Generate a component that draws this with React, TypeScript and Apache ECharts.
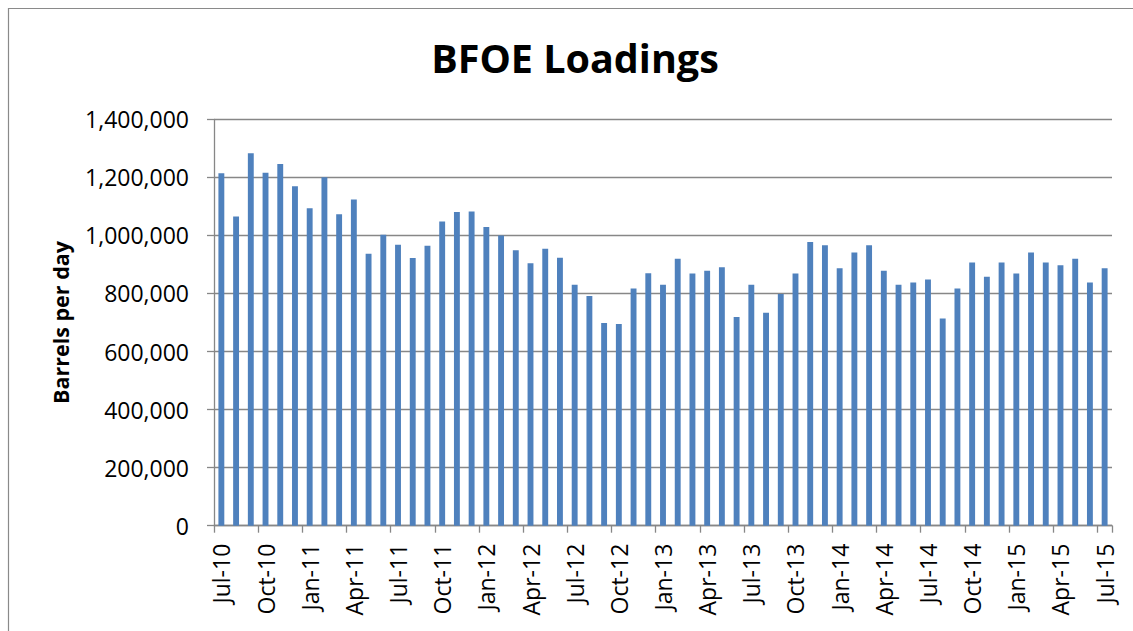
import React, { useEffect, useRef } from "react";
import * as echarts from "echarts";

const TITLE = "BFOE Loadings";
const Y_NAME = "Barrels per day";

const months: string[] = [
  "Jul-10", "Aug-10", "Sep-10", "Oct-10", "Nov-10", "Dec-10",
  "Jan-11", "Feb-11", "Mar-11", "Apr-11", "May-11", "Jun-11",
  "Jul-11", "Aug-11", "Sep-11", "Oct-11", "Nov-11", "Dec-11",
  "Jan-12", "Feb-12", "Mar-12", "Apr-12", "May-12", "Jun-12",
  "Jul-12", "Aug-12", "Sep-12", "Oct-12", "Nov-12", "Dec-12",
  "Jan-13", "Feb-13", "Mar-13", "Apr-13", "May-13", "Jun-13",
  "Jul-13", "Aug-13", "Sep-13", "Oct-13", "Nov-13", "Dec-13",
  "Jan-14", "Feb-14", "Mar-14", "Apr-14", "May-14", "Jun-14",
  "Jul-14", "Aug-14", "Sep-14", "Oct-14", "Nov-14", "Dec-14",
  "Jan-15", "Feb-15", "Mar-15", "Apr-15", "May-15", "Jun-15",
  "Jul-15",
];

const loadings2010: number[] = [1214000, 1065000, 1283000, 1216000, 1246000, 1169000];
const loadings2011: number[] = [1094000, 1200000, 1073000, 1124000, 937000, 1002000, 968000, 922000, 964000, 1048000, 1081000, 1082000];
const loadings2012: number[] = [1029000, 1000000, 949000, 904000, 954000, 923000, 830000, 791000, 698000, 695000, 817000, 870000];
const loadings2013: number[] = [830000, 920000, 869000, 878000, 890000, 719000, 830000, 734000, 798000, 869000, 977000, 966000];
const loadings2014: number[] = [887000, 941000, 966000, 878000, 830000, 838000, 848000, 714000, 817000, 907000, 858000, 907000];
const loadings2015: number[] = [869000, 941000, 907000, 897000, 920000, 838000, 887000];

const yTicks = { min: 0, max: 1400000, interval: 200000 };

const FONT = "'Open Sans', 'Noto Sans', sans-serif";
const GRID_GRAY = "#878787";

export default function App() {
  const ref = useRef<HTMLDivElement>(null);

  useEffect(() => {
    document.body.style.margin = "0";
    if (!ref.current) return;
    const chart = echarts.init(ref.current, undefined, { renderer: "svg" });
    const values = [
      ...loadings2010,
      ...loadings2011,
      ...loadings2012,
      ...loadings2013,
      ...loadings2014,
      ...loadings2015,
    ];
    chart.setOption({
      animation: false,
      backgroundColor: "#ffffff",
      textStyle: { fontFamily: FONT },
      graphic: [
        {
          type: "rect",
          shape: { x: 8.5, y: 8.5, width: 1400, height: 900 },
          style: { fill: "none", stroke: "#8a8a8a", lineWidth: 1.2 },
          silent: true,
        },
        {
          type: "text",
          x: 575,
          y: 58,
          style: {
            text: TITLE,
            fontFamily: FONT,
            fontWeight: "bold",
            fontSize: 39.5,
            fill: "#000000",
            align: "center",
            verticalAlign: "middle",
          },
        },
      ],
      grid: { left: 214, right: 21, top: 119.3, bottom: 105.3, containLabel: false },
      xAxis: {
        type: "category",
        data: months,
        boundaryGap: true,
        axisLine: { show: true, lineStyle: { color: GRID_GRAY, width: 1.3 } },
        axisTick: { show: true, interval: 2, length: 7, alignWithLabel: false, lineStyle: { color: GRID_GRAY, width: 1.3 } },
        axisLabel: {
          interval: 2,
          rotate: 90,
          margin: 18,
          fontSize: 23,
          color: "#000000",
          fontFamily: FONT,
        },
        splitLine: { show: false },
      },
      yAxis: {
        type: "value",
        min: yTicks.min,
        max: yTicks.max,
        interval: yTicks.interval,
        name: Y_NAME,
        nameLocation: "middle",
        nameRotate: 90,
        nameGap: 143,
        nameTextStyle: { fontSize: 21.5, fontWeight: "bold", color: "#000000", fontFamily: FONT },
        axisLine: { show: true, lineStyle: { color: GRID_GRAY, width: 1.3 } },
        axisTick: { show: true, length: 7, lineStyle: { color: GRID_GRAY, width: 1.3 } },
        axisLabel: {
          margin: 25,
          fontSize: 23,
          color: "#000000",
          fontFamily: FONT,
          formatter: (v: number) => v.toLocaleString("en-US"),
        },
        splitLine: { show: true, lineStyle: { color: GRID_GRAY, width: 1.3 } },
      },
      series: [
        {
          type: "bar",
          data: values,
          barWidth: "40%",
          itemStyle: { color: "#4F81BD" },
        },
      ],
    });
    return () => chart.dispose();
  }, []);

  return <div ref={ref} style={{ width: 1133, height: 631 }} />;
}
